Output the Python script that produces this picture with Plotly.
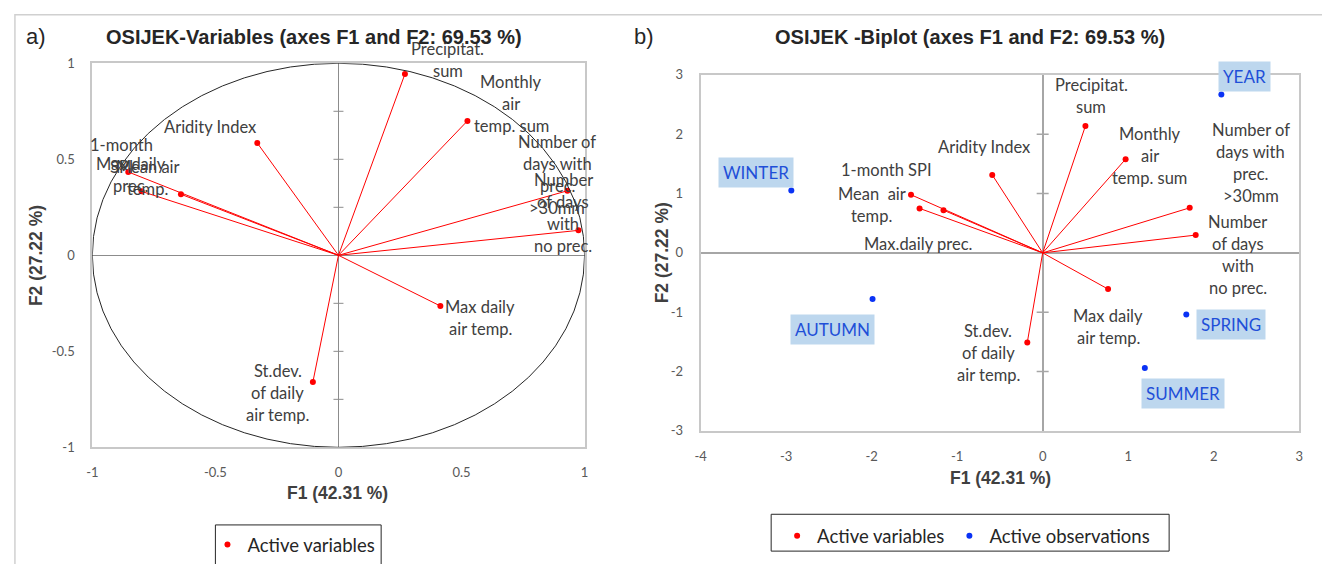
import plotly.graph_objects as go

W, H = 1322, 564

# ---------------- data ----------------
var_names = ["Precipitat. sum", "Monthly air temp. sum", "Aridity Index", "1-month SPI",
             "Mean air temp.", "Max.daily prec.", "Number of days with prec. >30mm",
             "Number of days with no prec.", "Max daily air temp.", "St.dev. of daily air temp."]
# correlation circle (chart a)
corr_f1 = [0.27, 0.524, -0.33, -0.854, -0.80, -0.64, 0.93, 0.975, 0.414, -0.104]
corr_f2 = [0.944, 0.70, 0.585, 0.434, 0.333, 0.318, 0.336, 0.13, -0.264, -0.66]
# biplot variables (chart b)
bi_f1 = [0.50, 0.97, -0.59, -1.54, -1.44, -1.16, 1.72, 1.79, 0.765, -0.18]
bi_f2 = [2.14, 1.58, 1.315, 0.98, 0.75, 0.72, 0.76, 0.30, -0.61, -1.51]
# observations (chart b)
obs_names = ["YEAR", "WINTER", "AUTUMN", "SPRING", "SUMMER"]
obs_f1 = [2.09, -2.94, -1.99, 1.68, 1.195]
obs_f2 = [2.67, 1.05, -0.776, -1.04, -1.94]

# tick values / labels
a_ticks = [-1, -0.5, 0, 0.5, 1]
a_ticktext = ["-1", "-0.5", "0", "0.5", "1"]
a_minor = [-0.75, -0.5, -0.25, 0.25, 0.5, 0.75]
b_xticks = [-4, -3, -2, -1, 0, 1, 2, 3]
b_xticktext = ["-4", "-3", "-2", "-1", "0", "1", "2", "3"]
b_yticks = [-3, -2, -1, 0, 1, 2, 3]
b_yticktext = ["-3", "-2", "-1", "0", "1", "2", "3"]
b_minor = [-2, -1, 1, 2]

# label texts (line-broken as in the picture)
a_labels = ["Precipitat.<br>sum", "Monthly<br>air<br>temp. sum", "Aridity Index", "1-month<br>SPI",
            "Mean air<br>temp.", "Max.daily<br>prec.", "Number of<br>days with<br>prec.<br>>30mm",
            "Number<br>of days<br>with<br>no prec.", "Max daily<br>air temp.", "St.dev.<br>of daily<br>air temp."]
b_labels = ["Precipitat.<br>sum", "Monthly<br>air<br>temp. sum", "Aridity Index", "1-month SPI",
            "Mean  air<br>temp.", "Max.daily prec.", "Number of<br>days with<br>prec.<br>>30mm",
            "Number<br>of days<br>with<br>no prec.", "Max daily<br>air temp.", "St.dev.<br>of daily<br>air temp."]

# ---------------- label placement (pixel offsets, image-down positive) ----------------
a_off = [(43, -14), (44, -17), (-47, -16), (-7, -16), (6, -13), (-50, -19),
         (-10, -16), (-15, -17), (40, 12), (-35, 11)]
b_off = [(6, -30), (24, -3), (-8, -28), (-25, -25), (-48, -3), (-26, 34),
         (61, -45), (42, 20), (0, 38), (-39, 11)]
obs_off = [(23, -18), (-35, -18), (-40, 31), (45, 10), (38, 26)]

RED = "#ff0000"
BLUE = "#0a32f5"
LABEL_C = "#404040"
TICK_C = "#595959"
LABEL_FONT = "Lato, Carlito, Calibri, sans-serif"
TITLE_FONT = "Liberation Sans, Arial, sans-serif"

fig = go.Figure()


def vectors(xs, ys, xa, ya, legend, show):
    lx, ly = [], []
    for x, y in zip(xs, ys):
        lx += [0, x, None]
        ly += [0, y, None]
    fig.add_trace(go.Scatter(x=lx, y=ly, mode="lines", line=dict(color=RED, width=1),
                             xaxis=xa, yaxis=ya, showlegend=False, hoverinfo="skip"))
    fig.add_trace(go.Scatter(x=xs, y=ys, mode="markers", marker=dict(color=RED, size=6),
                             name="Active variables", xaxis=xa, yaxis=ya, text=var_names,
                             legend=legend, showlegend=show))


vectors(corr_f1, corr_f2, "x", "y", "legend", True)
vectors(bi_f1, bi_f2, "x2", "y2", "legend2", True)
fig.add_trace(go.Scatter(x=obs_f1, y=obs_f2, mode="markers", marker=dict(color=BLUE, size=6),
                         name="Active observations", xaxis="x2", yaxis="y2", text=obs_names,
                         legend="legend2"))

ann = []
LINE_H = 22


def add_label(xr, yr, x, y, text, dx, dy, size=16.5):
    lines = text.split("<br>")
    n = len(lines)
    for i, t in enumerate(lines):
        off = dy + (i - (n - 1) / 2) * LINE_H
        ann.append(dict(xref=xr, yref=yr, x=x, y=y, text=t, showarrow=False,
                        xshift=dx, yshift=-off, xanchor="center", yanchor="middle",
                        font=dict(family=LABEL_FONT, size=size, color=LABEL_C)))


for x, y, t, (dx, dy) in zip(corr_f1, corr_f2, a_labels, a_off):
    add_label("x", "y", x, y, t, dx, dy)
for x, y, t, (dx, dy) in zip(bi_f1, bi_f2, b_labels, b_off):
    add_label("x2", "y2", x, y, t, dx, dy)
for x, y, t, (dx, dy) in zip(obs_f1, obs_f2, obs_names, obs_off):
    ann.append(dict(xref="x2", yref="y2", x=x, y=y, text=t, showarrow=False,
                    xshift=dx, yshift=-dy, xanchor="center", yanchor="middle",
                    bgcolor="#bdd7ee", borderpad=4,
                    font=dict(family=LABEL_FONT, size=17, color="#1f4fd8")))


def px(xp):
    return xp / W


def py(yp):
    return 1 - yp / H


TF = dict(family=TITLE_FONT, size=20, color="#262626")
AF = dict(family=TITLE_FONT, size=17.5, color="#404040")
ann += [
    dict(xref="paper", yref="paper", x=px(310), y=py(30), text="<b>OSIJEK-Variables (axes F1 and F2: 69.53 %)</b>",
         showarrow=False, font=TF, xanchor="center", yanchor="middle"),
    dict(xref="paper", yref="paper", x=px(971), y=py(30), text="<b>OSIJEK -Biplot (axes F1 and F2: 69.53 %)</b>",
         showarrow=False, font=TF, xanchor="center", yanchor="middle"),
    dict(xref="paper", yref="paper", x=px(30), y=py(29), text="a)", showarrow=False,
         font=dict(family=TITLE_FONT, size=22, color="#262626"), xanchor="center", yanchor="middle"),
    dict(xref="paper", yref="paper", x=px(643), y=py(29), text="b)", showarrow=False,
         font=dict(family=TITLE_FONT, size=22, color="#262626"), xanchor="center", yanchor="middle"),
    dict(xref="paper", yref="paper", x=px(334), y=py(500), text="<b>F1 (42.31 %)</b>", showarrow=False,
         font=AF, xanchor="center", yanchor="middle"),
    dict(xref="paper", yref="paper", x=px(1002), y=py(485), text="<b>F1 (42.31 %)</b>", showarrow=False,
         font=AF, xanchor="center", yanchor="middle"),
    dict(xref="paper", yref="paper", x=px(31), y=py(255), text="<b>F2 (27.22 %)</b>", showarrow=False, textangle=-90,
         font=AF, xanchor="center", yanchor="middle"),
    dict(xref="paper", yref="paper", x=px(661), y=py(253), text="<b>F2 (27.22 %)</b>", showarrow=False, textangle=-90,
         font=AF, xanchor="center", yanchor="middle"),
]

shapes = [
    # outer image frame (top & left visible)
    dict(type="rect", xref="paper", yref="paper", x0=px(9), x1=1.05, y0=-0.1, y1=py(7),
         line=dict(color="#d0d0d0", width=1.5), layer="below"),
    # legend boxes
    dict(type="rect", xref="paper", yref="paper", x0=px(211), x1=px(378), y0=py(600), y1=py(533),
         line=dict(color="#262626", width=1)),
    dict(type="rect", xref="paper", yref="paper", x0=px(771), x1=px(1172), y0=py(560), y1=py(522),
         line=dict(color="#262626", width=1)),
    # correlation circle
    dict(type="circle", xref="x", yref="y", x0=-1, x1=1, y0=-1, y1=1,
         line=dict(color="#262626", width=1)),
]
for t in a_minor:
    shapes.append(dict(type="line", xref="x", yref="y", xsizemode="pixel", xanchor=0, x0=-5, x1=5,
                       y0=t, y1=t, line=dict(color="#8c8c8c", width=1)))
for t in b_minor:
    shapes.append(dict(type="line", xref="x2", yref="y2", xsizemode="pixel", xanchor=0, x0=-6, x1=6,
                       y0=t, y1=t, line=dict(color="#a6a6a6", width=1.5)))

tickfont = dict(family=LABEL_FONT, size=13, color=TICK_C)
axcommon = dict(showgrid=False, showline=True, mirror=True, linecolor="#c8c8c8", linewidth=2,
                ticks="", tickfont=tickfont, zeroline=True)
LF = dict(family=LABEL_FONT, size=18.5, color="#262626")

fig.update_layout(
    width=W, height=H, margin=dict(l=0, r=0, t=0, b=0),
    paper_bgcolor="white", plot_bgcolor="white",
    xaxis=dict(domain=[px(87), px(583)], range=[-1, 1], tickvals=a_ticks, ticktext=a_ticktext,
               anchor="y", zerolinecolor="#8c8c8c", zerolinewidth=1, ticklabelstandoff=12, **axcommon),
    yaxis=dict(domain=[py(453), py(57)], range=[-1, 1], tickvals=a_ticks, ticktext=a_ticktext,
               anchor="x", zerolinecolor="#8c8c8c", zerolinewidth=1, ticklabelstandoff=13, **axcommon),
    xaxis2=dict(domain=[px(700), px(1303)], range=[-4, 3], tickvals=b_xticks, ticktext=b_xticktext, anchor="y2",
                zerolinecolor="#a6a6a6", zerolinewidth=2, ticklabelstandoff=13, **axcommon),
    yaxis2=dict(domain=[py(436), py(69)], range=[-3, 3], tickvals=b_yticks, ticktext=b_yticktext, anchor="x2",
                zerolinecolor="#a6a6a6", zerolinewidth=2, ticklabelstandoff=13, **axcommon),
    legend=dict(x=px(203), y=py(534), xanchor="left", yanchor="top", orientation="h",
                borderwidth=0, bgcolor="rgba(0,0,0,0)", font=LF, itemwidth=30),
    legend2=dict(x=px(777), y=py(525), xanchor="left", yanchor="top", orientation="h",
                 borderwidth=0, bgcolor="rgba(0,0,0,0)", font=LF, itemwidth=30),
    annotations=ann, shapes=shapes, showlegend=True,
)

fig.write_html("out.html")
